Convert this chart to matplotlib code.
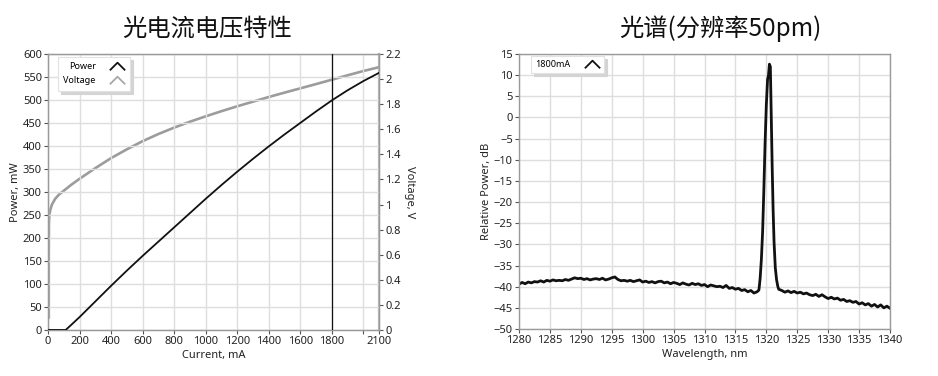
import numpy as np
import matplotlib
matplotlib.use("Agg")
import matplotlib.pyplot as plt
from matplotlib.lines import Line2D

plt.rcParams['font.family'] = ['Noto Sans', 'DejaVu Sans']
plt.rcParams['font.size'] = 8

# L-I-V data
current_p = [0, 50, 100, 112, 150, 200, 300, 400, 500, 600, 700, 800, 900, 1000,
             1100, 1200, 1300, 1400, 1500, 1600, 1700, 1800, 1900, 2000, 2100]
power = [0, 0, 0, 0, 12, 28, 62, 96, 129, 161, 192, 223, 254, 285,
         315, 344, 372, 399, 425, 450, 475, 499, 521, 541, 559]

current_v = [5, 5, 6, 9, 15, 25, 45, 70, 100, 150, 200, 300, 400, 500, 600, 700, 800,
             900, 1000, 1100, 1200, 1300, 1400, 1500, 1600, 1700, 1800, 1900, 2000, 2100]
voltage = [0.10, 0.60, 0.85, 0.92, 0.96, 1.00, 1.045, 1.08, 1.11, 1.16, 1.205, 1.29,
           1.37, 1.44, 1.505, 1.562, 1.613, 1.66, 1.703, 1.744, 1.783, 1.82, 1.857,
           1.892, 1.926, 1.96, 1.995, 2.03, 2.064, 2.095]
cursor_current = 1800

# spectrum data (1800 mA)
wl = [1280.0, 1280.5, 1281.0, 1281.5, 1282.0, 1282.5, 1283.0, 1283.5, 1284.0, 1284.5,
      1285.0, 1285.5, 1286.0, 1286.5, 1287.0, 1287.5, 1288.0, 1288.5, 1289.0, 1289.5,
      1290.0, 1290.5, 1291.0, 1291.5, 1292.0, 1292.5, 1293.0, 1293.5, 1294.0, 1294.5,
      1295.0, 1295.5, 1296.0, 1296.5, 1297.0, 1297.5, 1298.0, 1298.5, 1299.0, 1299.5,
      1300.0, 1300.5, 1301.0, 1301.5, 1302.0, 1302.5, 1303.0, 1303.5, 1304.0, 1304.5,
      1305.0, 1305.5, 1306.0, 1306.5, 1307.0, 1307.5, 1308.0, 1308.5, 1309.0, 1309.5,
      1310.0, 1310.5, 1311.0, 1311.5, 1312.0, 1312.5, 1313.0, 1313.5, 1314.0, 1314.5,
      1315.0, 1315.5, 1316.0, 1316.5, 1317.0, 1317.5, 1318.0, 1318.5,
      1318.8, 1319.0, 1319.2, 1319.4, 1319.6, 1319.8, 1320.0, 1320.2, 1320.35, 1320.5,
      1320.65, 1320.8, 1320.95, 1321.1, 1321.25, 1321.45, 1321.65, 1321.85, 1322.0,
      1322.5, 1323.0, 1323.5, 1324.0, 1324.5, 1325.0, 1325.5, 1326.0, 1326.5, 1327.0,
      1327.5, 1328.0, 1328.5, 1329.0, 1329.5, 1330.0, 1330.5, 1331.0, 1331.5, 1332.0,
      1332.5, 1333.0, 1333.5, 1334.0, 1334.5, 1335.0, 1335.5, 1336.0, 1336.5, 1337.0,
      1337.5, 1338.0, 1338.5, 1339.0, 1339.5, 1340.0]
rel_power = [-39.4, -39.0, -39.3, -38.9, -39.1, -38.8, -38.9, -38.6, -38.9, -38.5,
             -38.7, -38.4, -38.6, -38.5, -38.6, -38.3, -38.5, -38.2, -37.9, -38.1,
             -38.0, -38.3, -38.1, -38.4, -38.2, -38.1, -38.3, -38.0, -38.4, -38.2,
             -37.9, -37.7, -38.3, -38.6, -38.5, -38.7, -38.5, -38.8, -38.6, -38.4,
             -38.9, -38.7, -39.0, -38.8, -39.1, -38.8, -38.7, -39.1, -38.9, -39.3,
             -39.0, -39.2, -39.5, -39.1, -39.4, -39.6, -39.2, -39.5, -39.3, -39.7,
             -39.5, -40.0, -39.6, -39.8, -40.0, -39.9, -40.2, -39.7, -40.4, -40.2,
             -40.6, -40.4, -40.9, -40.7, -41.2, -40.9, -41.5, -41.2,
             -40.8, -38.0, -33.5, -27.0, -17.0, -6.0, 3.0, 9.0, 10.0, 12.6,
             12.0, 0.0, -12.0, -22.0, -29.5, -35.5, -38.3, -39.9, -40.6,
             -40.9, -41.3, -41.0, -41.4, -41.1, -41.5, -41.3, -41.7, -41.5, -41.9,
             -42.1, -41.8, -42.3, -41.9, -42.4, -42.8, -42.5, -42.9, -42.7, -43.2,
             -43.0, -43.5, -43.3, -43.7, -43.5, -44.1, -43.8, -44.3, -44.0, -44.6,
             -44.2, -44.8, -44.3, -45.0, -44.6, -45.1]

grid_c = '#dedede'
spine_c = '#9a9a9a'
text_c = '#222222'
caret = [(-1, -0.5), (0, 0.5), (1, -0.5)]

fig = plt.figure(figsize=(9.38, 3.76), dpi=100)
ax1 = fig.add_axes([48 / 938, 1 - 330 / 376, 331 / 938, 276 / 376])
ax2 = ax1.twinx()
ax3 = fig.add_axes([519 / 938, 1 - 329 / 376, 371 / 938, 275 / 376])


def style(ax):
    for s in ax.spines.values():
        s.set_color(spine_c)
        s.set_linewidth(1.0)
    ax.tick_params(length=3, width=0.8, color='#555555', labelcolor=text_c,
                   labelsize=8, pad=1.5)
    ax.grid(True, color=grid_c, linewidth=1.0)
    ax.set_axisbelow(True)


# left chart
style(ax1)
ax1.plot(current_p, power, color='#111111', lw=1.3, zorder=4)
ax1.axvline(cursor_current, color='#111111', lw=0.9, zorder=5)
ax1.set_xlim(0, 2100)
ax1.set_ylim(0, 600)
ax1.set_xticks(list(range(0, 2001, 200)) + [2100])
ax1.set_xticklabels([str(v) if v != 2000 else '' for v in range(0, 2001, 200)] + ['2100'])
ax1.set_yticks(range(0, 601, 50))
ax1.set_xlabel('Current, mA', color=text_c, labelpad=2)
ax1.set_ylabel('Power, mW', color=text_c, labelpad=1)

ax2.plot(current_v, voltage, color='#9c9c9c', lw=1.9, zorder=3)
ax2.set_ylim(0, 2.2)
yt = np.round(np.arange(0, 2.21, 0.2), 1)
ax2.set_yticks(yt)
ax2.set_yticklabels(['%g' % v for v in yt])
for s in ax2.spines.values():
    s.set_color(spine_c)
ax2.spines['right'].set_color('#b4b4b4')
ax2.spines['right'].set_linewidth(1.6)
ax2.tick_params(length=3, width=0.8, color='#555555', labelcolor=text_c, labelsize=8, pad=1.5)
ax2.set_ylabel('Voltage, V', color=text_c, rotation=270, labelpad=10)
ax1.set_zorder(ax2.get_zorder() + 1)
ax1.patch.set_visible(False)

handles = [Line2D([], [], ls='none', marker=caret, ms=11, mew=1.3, mfc='none', mec='#111111'),
           Line2D([], [], ls='none', marker=caret, ms=11, mew=1.3, mfc='none', mec='#a8a8a8')]
leg = ax1.legend(handles, ['Power', 'Voltage'], loc='upper left', bbox_to_anchor=(0.03, 0.989),
                 borderaxespad=0, markerfirst=False, fontsize=6.5, frameon=True, fancybox=False,
                 edgecolor='#e2e2e2', borderpad=0.6, handlelength=1.7, handletextpad=1.5,
                 labelspacing=0.55, shadow={'color': '#d4d4d4', 'alpha': 1})
leg.get_frame().set_linewidth(0.8)

# right chart
style(ax3)
ax3.plot(wl, rel_power, color='#111111', lw=2.0)
ax3.set_xlim(1280, 1340)
ax3.set_ylim(-50, 15)
ax3.set_xticks(range(1280, 1341, 5))
ax3.set_yticks(range(-50, 16, 5))
ax3.set_xlabel('Wavelength, nm', color=text_c, labelpad=2)
ax3.set_ylabel('Relative Power, dB', color=text_c, labelpad=1)
leg2 = ax3.legend([Line2D([], [], ls='none', marker=caret, ms=11, mew=1.3, mfc='none', mec='#111111')],
                  ['1800mA'], loc='upper left', bbox_to_anchor=(0.032, 0.993),
                  borderaxespad=0, markerfirst=False, fontsize=6.5, frameon=True, fancybox=False,
                  edgecolor='#e2e2e2', borderpad=0.45, handlelength=1.7, handletextpad=1.6,
                  shadow={'color': '#d4d4d4', 'alpha': 1})
leg2.get_frame().set_linewidth(0.8)

# titles
fig.text(207 / 938, 1 - 29 / 376, '光电流电压特性', ha='center', va='center',
         fontsize=17.5, family=['Noto Sans CJK SC', 'DejaVu Sans'], color='#111111')
fig.text(720 / 938, 1 - 29 / 376, '光谱(分辨率50pm)', ha='center', va='center',
         fontsize=17.5, family=['Noto Sans CJK SC', 'DejaVu Sans'], color='#111111')

fig.savefig('out.png', dpi=100)
